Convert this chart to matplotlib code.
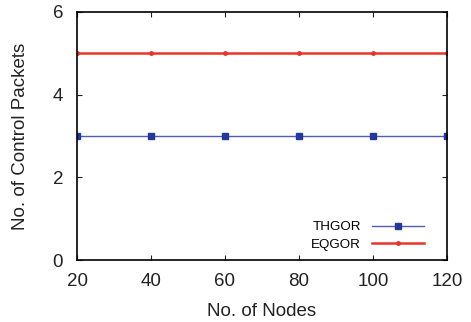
import numpy as np
import matplotlib.pyplot as plt

plt.rcParams['font.family'] = ['Liberation Sans', 'DejaVu Sans']

nodes = [20, 40, 60, 80, 100, 120]
thgor = [3, 3, 3, 3, 3, 3]
eqgor = [5, 5, 5, 5, 5, 5]

fig = plt.figure(figsize=(4.71, 3.22), dpi=100)
ax = fig.add_axes([0.1635, 0.1925, 0.7855, 0.7705])

ax.plot(nodes, thgor, color='#4a5fb0', lw=1.0, marker='s', ms=4,
        mfc='#24389a', mec='#24389a', label='THGOR')
ax.plot(nodes, eqgor, color='#e8352a', lw=1.8, marker='o', ms=2.5,
        mfc='#e8352a', mec='#e8352a', label='EQGOR')

ax.set_xlim(20, 120)
ax.set_ylim(0, 6)
ax.set_xticks(nodes)
ax.set_yticks([0, 2, 4, 6])
ax.tick_params(direction='in', labelsize=13.5, colors='#222222', length=3.5,
               top=True, right=True)
ax.tick_params(axis='x', pad=9)
ax.tick_params(axis='y', pad=10)
for s in ax.spines.values():
    s.set_linewidth(1.2)

ax.set_xlabel('No. of Nodes', fontsize=13.5, color='#222222', labelpad=10)
ax.set_ylabel('No. of Control Packets', fontsize=13.5, color='#222222', labelpad=17)

ax.legend(loc='lower right', frameon=False, fontsize=9.6, markerfirst=False,
          handlelength=3.9, labelspacing=0.4, bbox_to_anchor=(0.97, -0.012))

fig.savefig('out.png', dpi=100)
